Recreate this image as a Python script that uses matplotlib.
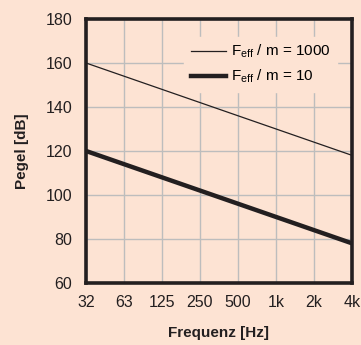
import matplotlib
matplotlib.use("Agg")
import matplotlib.pyplot as plt
import numpy as np

plt.rcParams['font.family'] = ['Liberation Sans', 'DejaVu Sans']
plt.rcParams['mathtext.fontset'] = 'custom'
plt.rcParams['mathtext.rm'] = 'Liberation Sans'
plt.rcParams['mathtext.it'] = 'Liberation Sans'

freq_labels = ['32', '63', '125', '250', '500', '1k', '2k', '4k']
level_1000 = [160, 154, 148, 142, 136, 130, 124, 118]
level_10 = [120, 114, 108, 102, 96, 90, 84, 78]
y_ticks = [60, 80, 100, 120, 140, 160, 180]

bg = '#fde3d3'
ink = '#231f20'
fig = plt.figure(figsize=(3.61, 3.45), dpi=100, facecolor=bg)
ax = fig.add_axes([0.238, 0.180, 0.737, 0.765], facecolor=bg)

x = np.arange(len(freq_labels))
ax.plot(x, level_1000, color=ink, lw=0.9, label=r'F$_{\mathrm{eff}}$ / m = 1000', zorder=1)
ax.plot(x, level_10, color=ink, lw=3.2, label=r'F$_{\mathrm{eff}}$ / m = 10', zorder=1)

ax.set_xlim(0, len(freq_labels) - 1)
ax.set_ylim(60, 180)
ax.set_xticks(x)
ax.set_xticklabels(freq_labels)
ax.set_yticks(y_ticks)
ax.grid(True, color='#bdbdbd', lw=1.0)
ax.set_axisbelow(True)
ax.tick_params(length=0, labelsize=11.5, colors=ink)
ax.tick_params(axis='x', pad=9)
ax.tick_params(axis='y', pad=10)
for s in ax.spines.values():
    s.set_linewidth(2.6)
    s.set_color(ink)

ax.set_xlabel('Frequenz [Hz]', fontsize=11, fontweight='bold', labelpad=11, color=ink)
ax.set_ylabel('Pegel [dB]', fontsize=11, fontweight='bold', labelpad=12, color=ink)

leg = ax.legend(loc='upper right', bbox_to_anchor=(0.944, 0.932), frameon=True, fontsize=11,
                handlelength=2.3, handletextpad=0.35, borderpad=0.4, labelspacing=0.5,
                fancybox=False, borderaxespad=0)
leg.get_frame().set_facecolor(bg)
leg.get_frame().set_edgecolor(bg)
leg.get_frame().set_alpha(1)
leg.set_zorder(0.5)

fig.savefig('out.png', dpi=100, facecolor=bg)
